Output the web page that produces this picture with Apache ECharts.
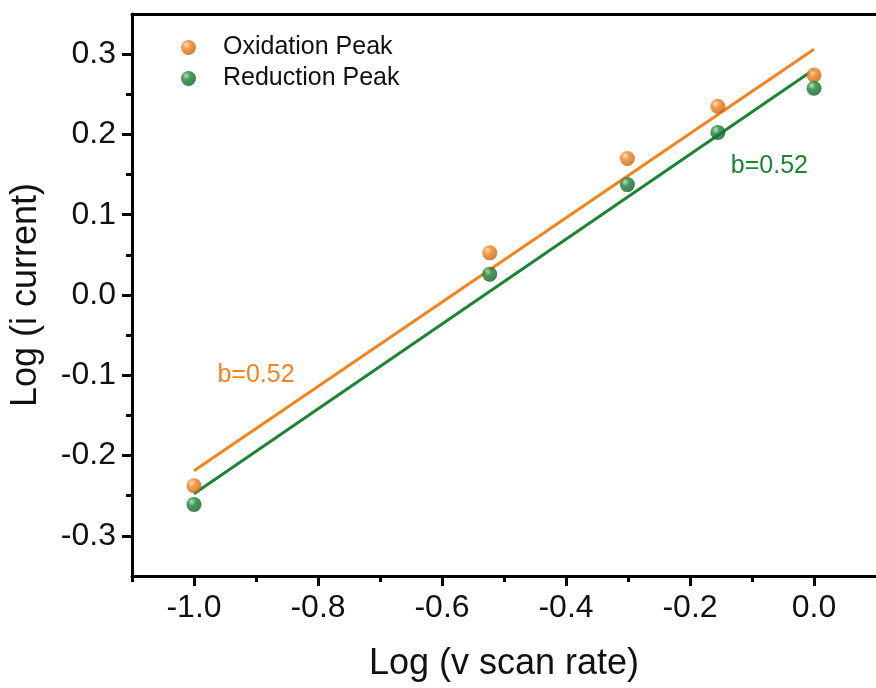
<!DOCTYPE html>
<html>
<head>
    <meta charset="utf-8">
    <title>Log i vs Log v</title>
    <script src="https://cdn.jsdelivr.net/npm/echarts@6/dist/echarts.min.js"></script>
    <style>
        html, body { margin: 0; padding: 0; background: #fff; }
    </style>
</head>
<body>
    <div id="main" style="width: 876px;height:688px;"></div>
    <script type="text/javascript">
        var dom = document.getElementById("main");
        var myChart = echarts.init(dom);

        // log of scan rate (x) and log of peak current (y)
        var logScanRate = [-1.0, -0.523, -0.301, -0.155, 0.0];
        var oxidationPeak = [-0.2375, 0.0525, 0.170, 0.235, 0.274];
        var reductionPeak = [-0.261, 0.026, 0.1375, 0.2025, 0.2575];

        // linear fit end points, x = -1.0 and x = 0.0
        var fitX = [-1.0, 0.0];
        var oxidationFit = [-0.219, 0.306];
        var reductionFit = [-0.2475, 0.281];

        var slopeLabel = 'b=0.52';

        var xMajorTicks = [-1.0, -0.8, -0.6, -0.4, -0.2, 0.0];
        var xMinorTicks = [-1.1, -0.9, -0.7, -0.5, -0.3, -0.1];
        var yMajorTicks = [-0.3, -0.2, -0.1, 0.0, 0.1, 0.2, 0.3];
        var yMinorTicks = [-0.25, -0.15, -0.05, 0.05, 0.15, 0.25];

        var orange = '#F2841F';
        var green = '#1B8435';

        function pairs(xs, ys) {
            return xs.map(function (x, i) { return [x, ys[i]]; });
        }

        function sphere(base, light, dark) {
            return new echarts.graphic.RadialGradient(0.35, 0.32, 0.75, [
                { offset: 0, color: light },
                { offset: 0.35, color: base },
                { offset: 1, color: dark }
            ]);
        }

        // a tick exactly at 0 seems to drop the whole custom tick list, so nudge it
        function safeTicks(values) {
            return values.map(function (v) { return v === 0 ? 1e-9 : v; });
        }

        var font = '"Liberation Sans", Arial, sans-serif';
        var plotRect = { left: 132, top: 14, width: 752, height: 562 };

        // tick-only axis (no line, no labels), lives in the overlay grid 1
        function tickAxis(range, position, values, len) {
            return {
                type: 'value',
                gridIndex: 1,
                min: range[0], max: range[1],
                position: position,
                splitLine: { show: false },
                axisLine: { show: false, onZero: false },
                axisTick: { show: true, length: len, lineStyle: { width: 3, color: '#000' }, customValues: safeTicks(values) },
                axisLabel: { show: false }
            };
        }

        // axis line + labels + title, grid 0
        function mainAxis(range, position, name, nameGap, values) {
            return {
                type: 'value',
                gridIndex: 0,
                min: range[0], max: range[1],
                position: position,
                name: name,
                nameLocation: 'middle',
                nameGap: nameGap,
                nameTextStyle: { fontFamily: font, fontSize: 36, color: '#111' },
                splitLine: { show: false },
                axisLine: { show: true, onZero: false, lineStyle: { color: '#000', width: 3 } },
                axisTick: { show: false },
                axisLabel: {
                    fontFamily: font, fontSize: 32, color: '#111', margin: 16,
                    customValues: values.slice(),
                    formatter: function (v) { return v.toFixed(1); }
                }
            };
        }

        var xRange = [-1.1, 0.1];
        var yRange = [-0.35, 0.35];

        var topBorder = tickAxis(xRange, 'top', [], 0);
        topBorder.axisLine = { show: true, onZero: false, lineStyle: { color: '#000', width: 3 } };
        topBorder.axisTick = { show: false };

        var option = {
            backgroundColor: '#fff',
            animation: false,
            grid: [plotRect, plotRect],
            legend: {
                left: 176,
                top: 30,
                orient: 'vertical',
                itemGap: 6,
                itemWidth: 15,
                itemHeight: 26,
                textStyle: { fontFamily: font, fontSize: 25, color: '#111', padding: [0, 0, 0, 22] },
                data: ['Oxidation Peak', 'Reduction Peak']
            },
            xAxis: [
                mainAxis(xRange, 'bottom', 'Log (v scan rate)', 70, xMajorTicks),
                tickAxis(xRange, 'bottom', xMajorTicks, 10),
                tickAxis(xRange, 'bottom', xMinorTicks, 6),
                topBorder
            ],
            yAxis: [
                mainAxis(yRange, 'left', 'Log (i current)', 88, yMajorTicks),
                tickAxis(yRange, 'left', yMajorTicks, 10),
                tickAxis(yRange, 'left', yMinorTicks, 6)
            ],
            series: [
                {
                    name: 'Oxidation Fit',
                    type: 'line',
                    data: pairs(fitX, oxidationFit),
                    symbol: 'none',
                    lineStyle: { color: orange, width: 3 },
                    z: 2,
                    markPoint: {
                        symbolSize: 0,
                        label: { show: true, formatter: slopeLabel, fontFamily: font, fontSize: 25, color: orange },
                        data: [{ coord: [-0.90, -0.1] }]
                    }
                },
                {
                    name: 'Reduction Fit',
                    type: 'line',
                    data: pairs(fitX, reductionFit),
                    symbol: 'none',
                    lineStyle: { color: green, width: 3 },
                    z: 2,
                    markPoint: {
                        symbolSize: 0,
                        label: { show: true, formatter: slopeLabel, fontFamily: font, fontSize: 25, color: green },
                        data: [{ coord: [-0.072, 0.161] }]
                    }
                },
                {
                    name: 'Oxidation Peak',
                    type: 'scatter',
                    data: pairs(logScanRate, oxidationPeak),
                    symbol: 'circle',
                    symbolSize: 15,
                    itemStyle: { color: sphere(orange, '#FFD9B0', '#C25E0A') },
                    z: 3
                },
                {
                    name: 'Reduction Peak',
                    type: 'scatter',
                    data: pairs(logScanRate, reductionPeak),
                    symbol: 'circle',
                    symbolSize: 15,
                    itemStyle: { color: sphere(green, '#A8DDB4', '#0E5A22') },
                    z: 3
                }
            ]
        };

        myChart.setOption(option, true);
    </script>
</body>
</html>
